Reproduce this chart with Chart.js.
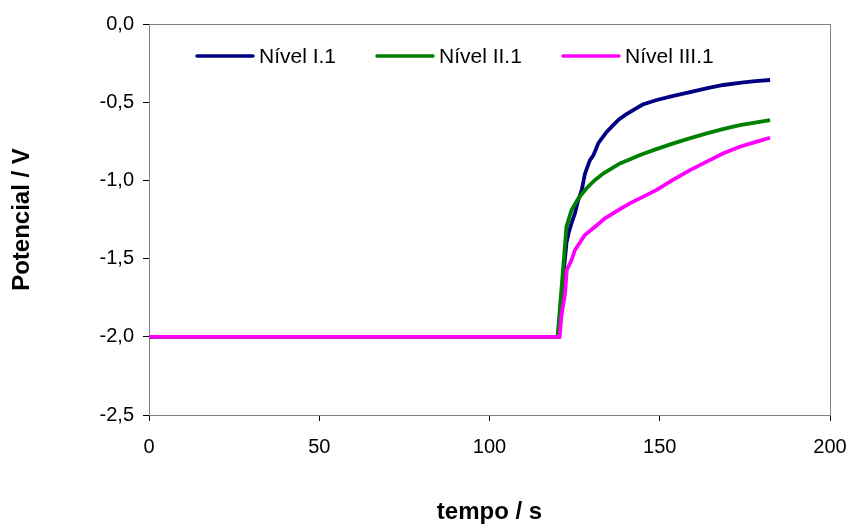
<!DOCTYPE html>
<html lang="pt">
<head>
    <meta charset="UTF-8">
    <title>Potencial vs tempo</title>
    <script src="https://cdn.jsdelivr.net/npm/chart.js@4.4.1/dist/chart.umd.min.js"></script>
    <style>
        html, body { margin: 0; padding: 0; background: #fff; }
        #wrap { width: 850px; height: 524px; position: relative; }
    </style>
</head>
<body>
    <div id="wrap"><canvas id="chart"></canvas></div>

    <script>
        // Potencial (V) em função do tempo (s) para cada nível
        const seriesNames = ['Nível I.1', 'Nível II.1', 'Nível III.1'];
        const seriesColors = ['#000080', '#008000', '#FF00FF'];

        const tempoI = [0, 120.1, 121.5, 122.6, 123.2, 124.0, 125.1, 126.0, 127.1, 128.0, 128.5, 129.5, 130.5, 132.0, 134.4, 136.4, 138.0, 140.0, 142.2, 145.0, 149.1, 154.0, 158.9, 164.0, 168.7, 174.0, 178.0, 182.4];
        const potI = [-2.0, -2.0, -1.65, -1.40, -1.34, -1.28, -1.21, -1.13, -1.06, -0.96, -0.93, -0.87, -0.84, -0.76, -0.69, -0.645, -0.61, -0.58, -0.55, -0.515, -0.486, -0.46, -0.435, -0.41, -0.39, -0.375, -0.365, -0.358];

        const tempoII = [0, 120.0, 121.3, 122.6, 124.1, 126.1, 128.5, 131.0, 133.5, 135.9, 138.3, 140.8, 144.2, 149.0, 154.0, 159.0, 163.8, 168.5, 173.5, 178.0, 182.4];
        const potII = [-2.0, -2.0, -1.65, -1.296, -1.19, -1.115, -1.05, -0.997, -0.955, -0.923, -0.891, -0.87, -0.838, -0.80, -0.763, -0.73, -0.699, -0.672, -0.646, -0.63, -0.614];

        const tempoIII = [0, 120.6, 121.1, 122.2, 122.7, 124.1, 125.1, 128.0, 131.0, 133.9, 138.8, 141.2, 145.2, 149.1, 154.0, 158.9, 163.8, 168.7, 173.5, 178.0, 182.4];
        const potIII = [-2.0, -2.0, -1.87, -1.72, -1.573, -1.509, -1.445, -1.349, -1.296, -1.242, -1.178, -1.147, -1.104, -1.061, -0.995, -0.934, -0.88, -0.827, -0.785, -0.755, -0.727];

        const xTicks = [0, 50, 100, 150, 200];
        const yTicks = [-2.5, -2.0, -1.5, -1.0, -0.5, 0.0];

        const FONT = "'Liberation Sans', Arial, sans-serif";

        function pairs(xs, ys) {
            return xs.map((x, i) => ({ x: x, y: ys[i] }));
        }

        // gray frame on top/right of the plot area
        const frame = {
            id: 'frame',
            beforeDatasetsDraw(chart) {
                const { ctx, chartArea: a } = chart;
                ctx.save();
                ctx.strokeStyle = '#808080';
                ctx.lineWidth = 1;
                ctx.strokeRect(a.left + 0.5, a.top + 0.5, a.right - a.left, a.bottom - a.top);
                ctx.restore();
            }
        };

        // legend drawn inside the plot area
        const legendStarts = [197, 377, 563];
        const innerLegend = {
            id: 'innerLegend',
            afterDraw(chart) {
                const ctx = chart.ctx;
                const y = 56;
                ctx.save();
                ctx.font = '21px ' + FONT;
                ctx.textBaseline = 'middle';
                ctx.fillStyle = '#000';
                chart.data.datasets.forEach((ds, i) => {
                    const x = legendStarts[i];
                    ctx.strokeStyle = ds.borderColor;
                    ctx.lineWidth = 3.5;
                    ctx.lineCap = 'round';
                    ctx.beginPath();
                    ctx.moveTo(x, y);
                    ctx.lineTo(x + 56, y);
                    ctx.stroke();
                    ctx.fillText(ds.label, x + 62, y + 1);
                });
                ctx.restore();
            }
        };

        // magenta on top, then green, blue underneath
        const drawOrder = [3, 2, 1];

        const datasets = [
            pairs(tempoI, potI),
            pairs(tempoII, potII),
            pairs(tempoIII, potIII)
        ].map((d, i) => ({
            label: seriesNames[i],
            data: d,
            borderColor: seriesColors[i],
            backgroundColor: seriesColors[i],
            borderWidth: 3.8,
            pointRadius: 0,
            tension: 0,
            fill: false,
            order: drawOrder[i]
        }));

        new Chart(document.getElementById('chart'), {
            type: 'line',
            data: { datasets: datasets },
            plugins: [frame, innerLegend],
            options: {
                responsive: true,
                maintainAspectRatio: false,
                animation: false,
                layout: { padding: { top: 24, right: 20, left: 0, bottom: 0 } },
                plugins: {
                    legend: { display: false },
                    tooltip: { enabled: false }
                },
                scales: {
                    x: {
                        type: 'linear',
                        min: 0,
                        max: 200,
                        afterBuildTicks: s => { s.ticks = xTicks.map(v => ({ value: v })); },
                        afterFit: s => { s.height = 109; s.paddingRight = 0; },
                        grid: { drawOnChartArea: false, tickLength: 6, color: '#000' },
                        border: { color: '#000', width: 1 },
                        ticks: {
                            padding: 14,
                            color: '#000',
                            font: { family: FONT, size: 20 },
                            maxRotation: 0
                        },
                        title: {
                            display: true,
                            text: 'tempo / s',
                            color: '#000',
                            padding: 0,
                            font: { family: FONT, size: 24, weight: 'bold', lineHeight: 1 }
                        }
                    },
                    y: {
                        min: -2.5,
                        max: 0,
                        afterBuildTicks: s => { s.ticks = yTicks.map(v => ({ value: v })); },
                        afterFit: s => { s.width = 149; },
                        grid: { drawOnChartArea: false, tickLength: 6, color: '#000' },
                        border: { color: '#000', width: 1 },
                        ticks: {
                            padding: 9,
                            color: '#000',
                            font: { family: FONT, size: 20 },
                            callback: v => v.toFixed(1).replace('.', ',')
                        },
                        title: {
                            display: true,
                            text: 'Potencial / V',
                            color: '#000',
                            padding: { top: 10, bottom: 0 },
                            font: { family: FONT, size: 24, weight: 'bold', lineHeight: 1 }
                        }
                    }
                }
            }
        });
    </script>
</body>
</html>
